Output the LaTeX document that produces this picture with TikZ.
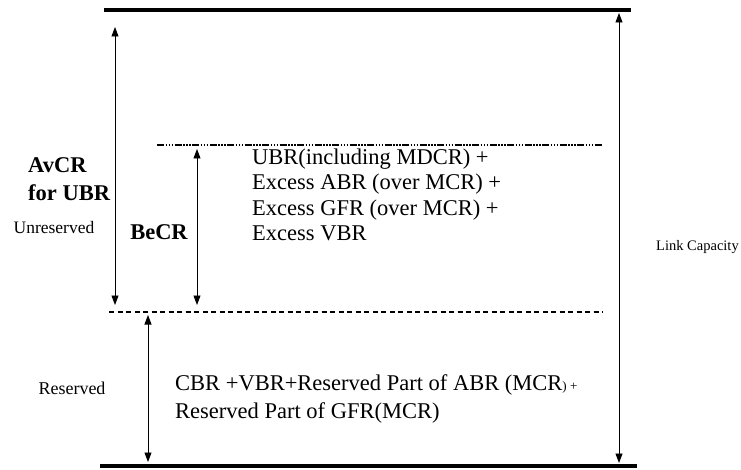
\documentclass[tikz,border=0pt]{standalone}
\usepackage{fontspec}
\setmainfont{Liberation Serif}
\usetikzlibrary{arrows.meta}
\tikzset{
  % thick bar at top and bottom
  capbar/.style={line width=4.5pt},
  % boundary between regions
  resline/.style={line width=1.4pt, dash pattern=on 5pt off 3.5pt},
  becrline/.style={line width=1.4pt, dash pattern=on 7pt off 1.5pt on 1.5pt off 1.5pt on 1.5pt off 1.5pt on 1.5pt off 1.5pt},
  % double arrow
  span/.style={{Triangle[length=9.5pt,width=7pt]}-{Triangle[length=9.5pt,width=7pt]}, line width=0.9pt},
  % texts
  bodytext/.style={inner sep=0pt, align=left, font=\fontsize{22.5}{25.5}\selectfont},
  boldlabel/.style={inner sep=0pt, align=left, font=\fontsize{22.5}{28}\selectfont\bfseries},
  smalllabel/.style={inner sep=0pt, font=\fontsize{#1}{#1}\selectfont},
  smalllabel/.default={17.5},
}
\begin{document}
\begin{tikzpicture}[x=1pt, y=-1pt]
  \useasboundingbox (0,0) rectangle (741,470);

  % -- levels --
  \coordinate (topL) at (104,10);
  \coordinate (topR) at (631,10);
  \coordinate (botL) at (100,466);
  \coordinate (botR) at (637,466);
  \coordinate (becrL) at (157,145);
  \coordinate (becrR) at (603,145);
  \coordinate (resL) at (109,312);
  \coordinate (resR) at (603,312);

  \draw[capbar] (topL) -- (topR);
  \draw[capbar] (botL) -- (botR);
  \draw[becrline] (becrL) -- (becrR);
  \draw[resline] (resL) -- (resR);

  % -- spans --
  \coordinate (avT) at (115,27);
  \coordinate (avB) at (115,305);
  \coordinate (beT) at (197,149);
  \coordinate (beB) at (197,305);
  \coordinate (rsT) at (148,315);
  \coordinate (rsB) at (148,462);
  \coordinate (lcT) at (619,13);
  \coordinate (lcB) at (619,463);

  \draw[span] (avT) -- (avB);
  \draw[span] (beT) -- (beB);
  \draw[span] (rsT) -- (rsB);
  \draw[span] (lcT) -- (lcB);

  % -- labels --
  \node[boldlabel, anchor=west] (avcr) at (28,179) {AvCR\\for UBR};
  \node[boldlabel] (becr) at (159,232) {BeCR};
  \node[smalllabel] (unres) at (54,228) {Unreserved};
  \node[smalllabel=18] (res) at (72,388) {Reserved};
  \node[smalllabel=14.5, anchor=west] (link) at (656,247) {Link Capacity};

  \node[bodytext, anchor=west] (upper) at (252,195)
    {UBR(including MDCR) +\\
     Excess ABR (over MCR) +\\
     Excess GFR (over MCR) +\\
     Excess VBR};
  \node[bodytext, anchor=west] (lower) at (175,399)
    {CBR +VBR+Reserved Part of ABR (MCR{\fontsize{13}{13}\selectfont) +}\\[2.5pt]
     Reserved Part of GFR(MCR)};

\end{tikzpicture}
\end{document}
